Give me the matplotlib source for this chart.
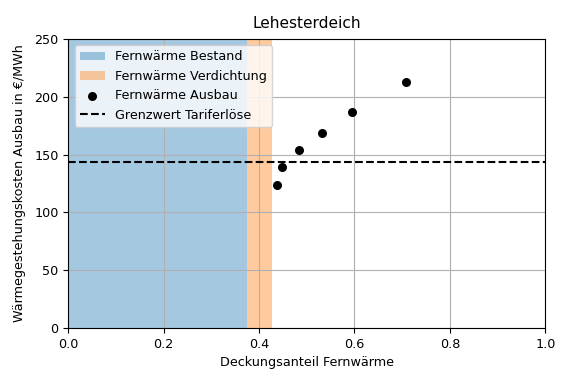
import matplotlib
matplotlib.use("Agg")
import matplotlib.pyplot as plt

# Werte aus dem Diagramm
bestand_bis = 0.375
verdichtung_bis = 0.428
ausbau_anteil = [0.437, 0.449, 0.484, 0.531, 0.595, 0.708]
ausbau_kosten = [123.4, 139.0, 154.0, 168.7, 186.6, 212.5]
grenzwert = 143.3

plt.rcParams["font.size"] = 9.2

fig = plt.figure(figsize=(5.68, 3.82), dpi=100)
ax = fig.add_axes([0.12, 0.141, 0.84, 0.757])

ax.axvspan(0, bestand_bis, color="tab:blue", alpha=0.4, lw=0, label="Fernwärme Bestand")
ax.axvspan(bestand_bis, verdichtung_bis, color="tab:orange", alpha=0.4, lw=0,
           label="Fernwärme Verdichtung")
ax.scatter(ausbau_anteil, ausbau_kosten, color="black", s=30, zorder=3,
           label="Fernwärme Ausbau")
ax.axhline(grenzwert, color="black", ls="--", label="Grenzwert Tariferlöse")

ax.set_xlim(0, 1)
ax.set_ylim(0, 250)
ax.grid(True)
ax.set_title("Lehesterdeich", pad=8)
ax.set_xlabel("Deckungsanteil Fernwärme")
ax.set_ylabel("Wärmegestehungskosten Ausbau in €/MWh", labelpad=6)
ax.legend(loc="upper left")

fig.savefig("out.png", dpi=100)
